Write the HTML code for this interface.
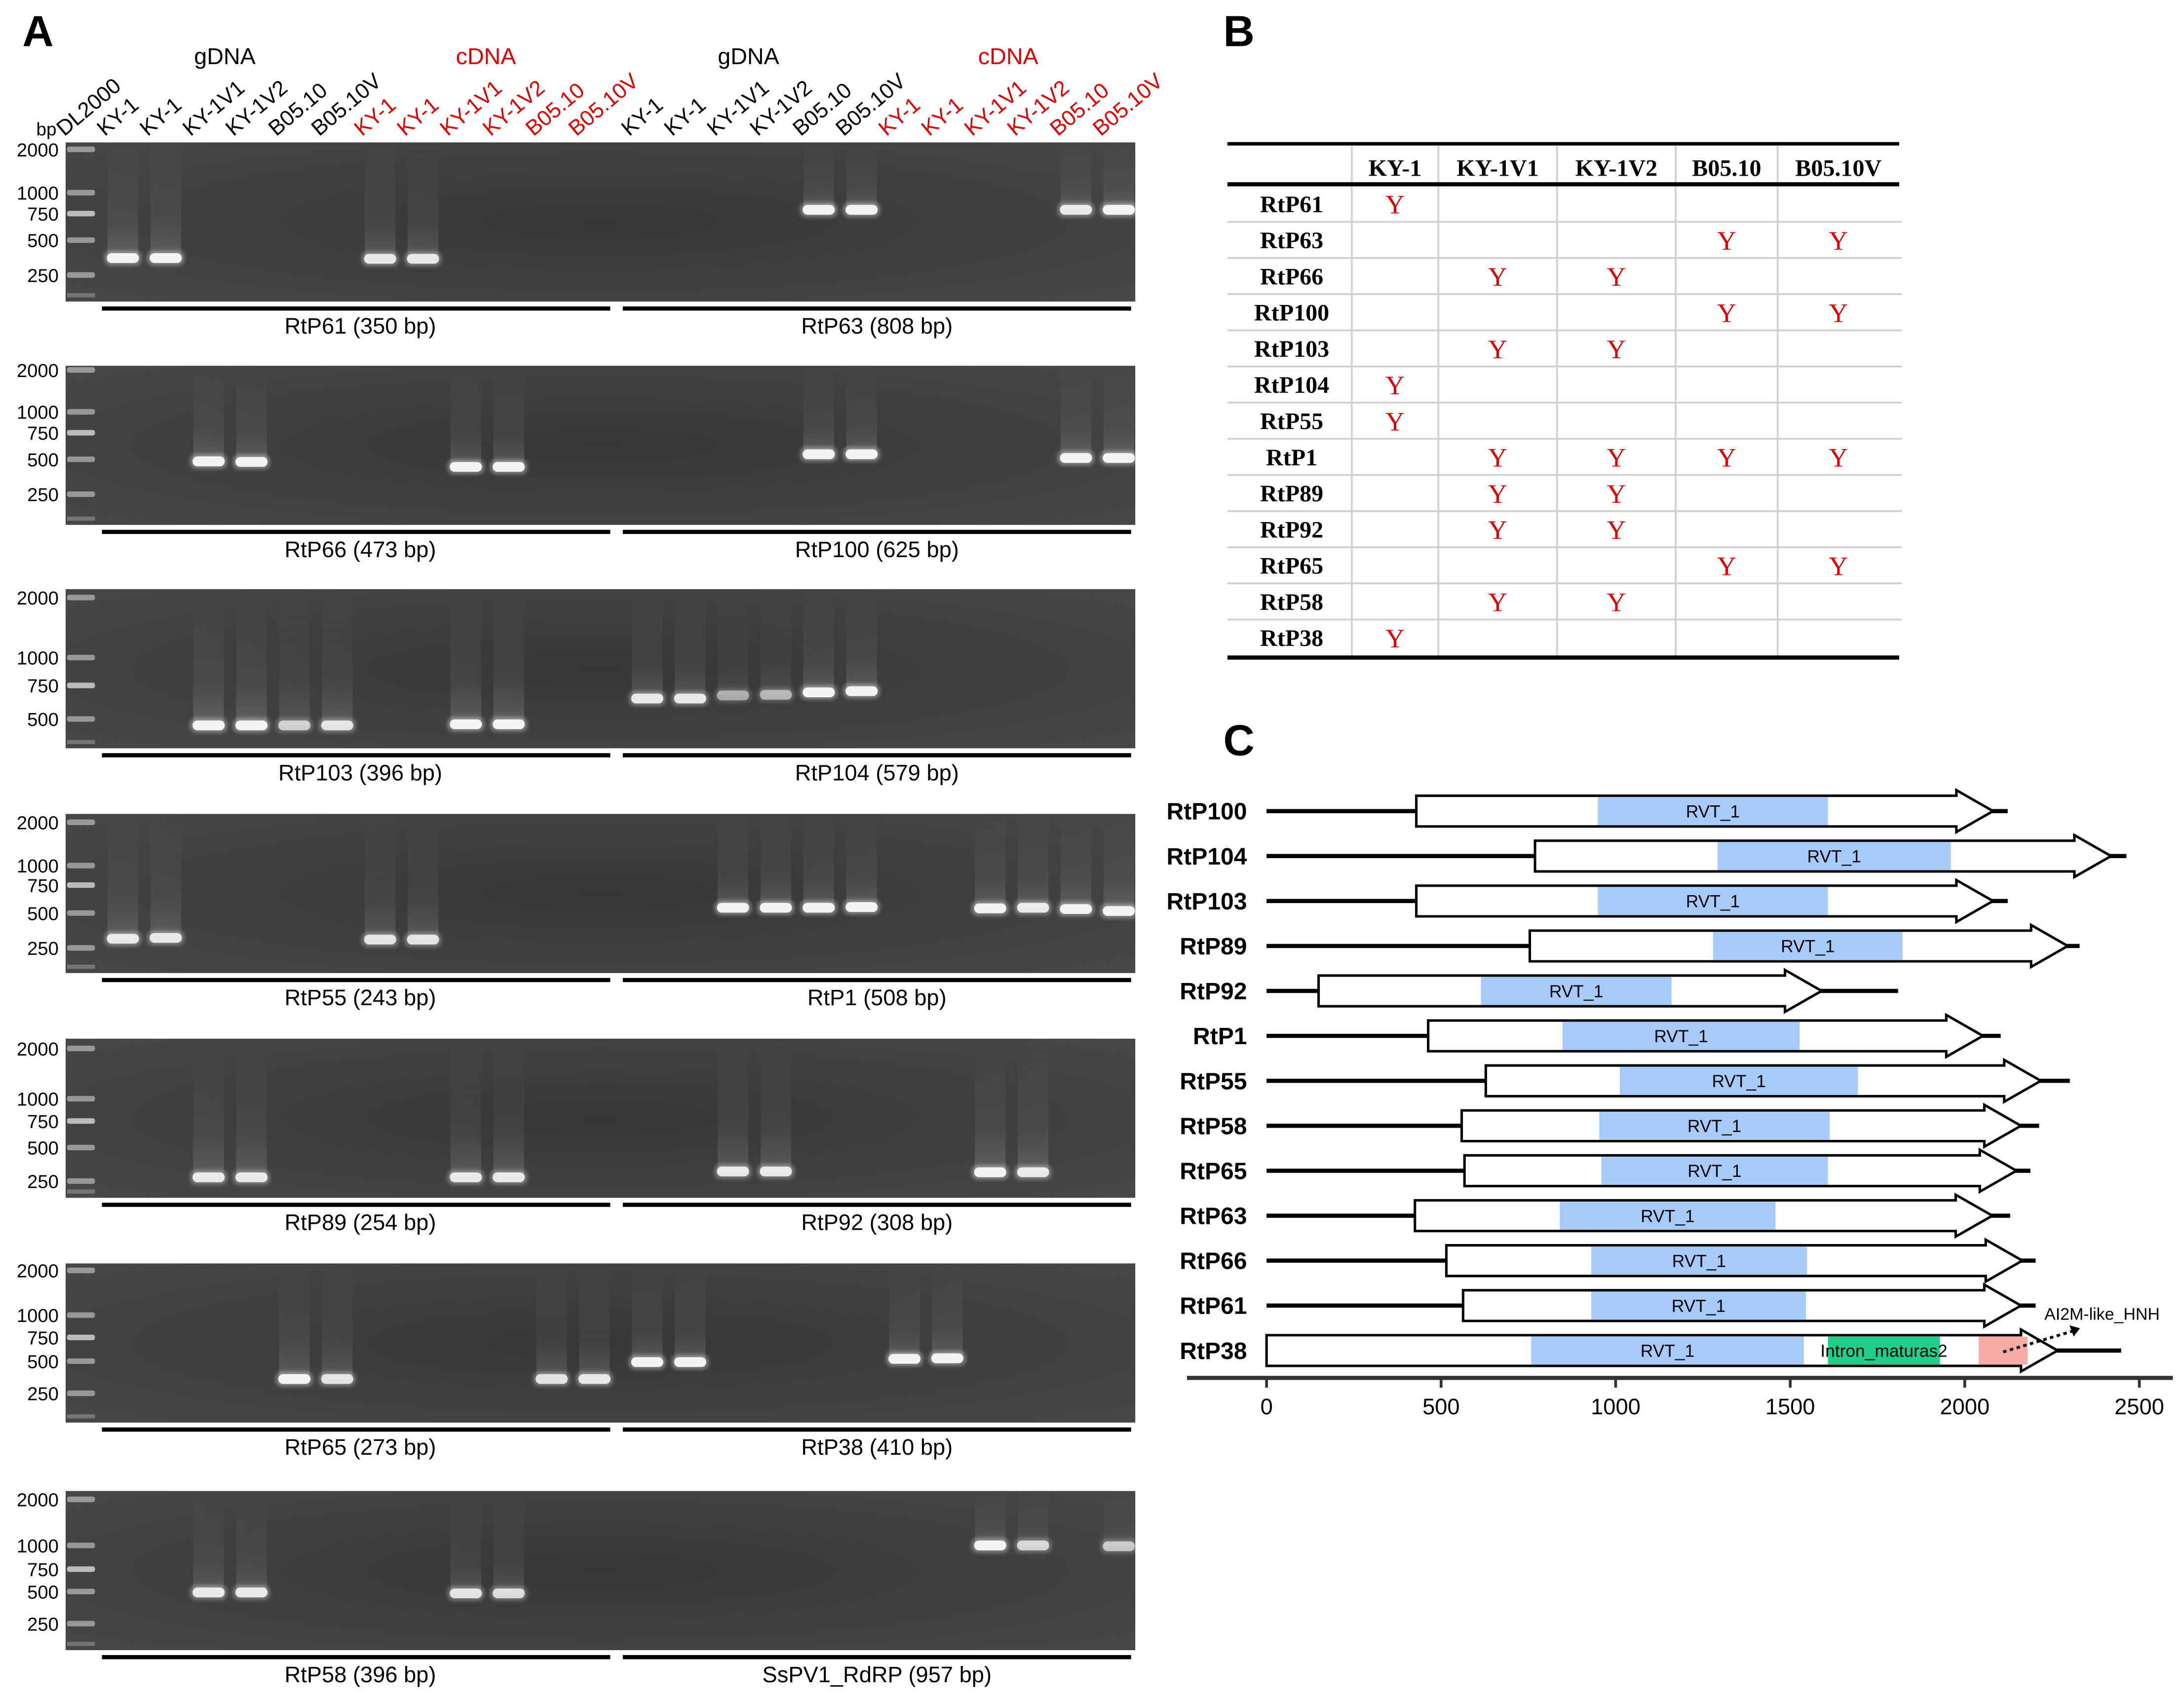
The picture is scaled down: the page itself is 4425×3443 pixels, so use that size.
<!DOCTYPE html>
<html><head><meta charset="utf-8"><style>
html,body{margin:0;padding:0;background:#fff;}
svg{display:block;}
</style></head><body>
<svg id="fig" xmlns="http://www.w3.org/2000/svg" width="4425" height="3443" viewBox="0 0 1564 1217" preserveAspectRatio="none" font-family="'Liberation Sans', sans-serif">
<defs>
<linearGradient id="smear" x1="0" y1="0" x2="0" y2="1"><stop offset="0" stop-color="#fff" stop-opacity="0"/><stop offset="0.7" stop-color="#fff" stop-opacity="0.06"/><stop offset="1" stop-color="#fff" stop-opacity="0.16"/></linearGradient>
<radialGradient id="gelbg" cx="0.5" cy="0.5" r="0.7"><stop offset="0" stop-color="#363636"/><stop offset="1" stop-color="#474747"/></radialGradient>
<filter id="glow" x="-50%" y="-100%" width="200%" height="300%"><feGaussianBlur stdDeviation="1.5"/></filter>
</defs>
<text x="16" y="33" font-size="31" font-weight="bold">A</text>
<text x="876" y="33" font-size="31" font-weight="bold">B</text>
<text x="876" y="541" font-size="31" font-weight="bold">C</text>
<g id="gA"></g>
<g id="gB"></g>
<g id="gC"></g>
</svg>
<script>
const NS='http://www.w3.org/2000/svg';
function mk(tag,attrs,parent,txt){const e=document.createElementNS(NS,tag);for(const k in attrs)e.setAttribute(k,attrs[k]);if(txt!==undefined)e.textContent=txt;parent.appendChild(e);return e;}

/* ---------- Panel A data ---------- */
const laneNames=['KY-1','KY-1','KY-1V1','KY-1V2','B05.10','B05.10V'];
const ladderBp=[2000,1000,750,500,250];
const gelTops=[102,262,422,583,744,905,1068];
const gelLadderOffsets=[[5,36,51,70,95],[3,33,48,67,92],[6,49,69,93,118],[6,37,51,71,96],[7,43,59,78,102],[5,37,53,70,93],[6,39,56,72,95]];
const gelLabelsLeft=['RtP61 (350 bp)','RtP66 (473 bp)','RtP103 (396 bp)','RtP55 (243 bp)','RtP89 (254 bp)','RtP65 (273 bp)','RtP58 (396 bp)'];
const gelLabelsRight=['RtP63 (808 bp)','RtP100 (625 bp)','RtP104 (579 bp)','RtP1 (508 bp)','RtP92 (308 bp)','RtP38 (410 bp)','SsPV1_RdRP (957 bp)'];
// bands: [lane(1-24), apparent bp, intensity]
const gelBands=[
 [[1,350,1],[2,350,1],[7,345,0.9],[8,345,0.9],[17,790,1],[18,790,1],[23,790,0.9],[24,790,1]],
 [[3,480,1],[4,475,1],[9,430,1],[10,430,1],[17,540,1],[18,540,1],[23,510,1],[24,510,1]],
 [[3,440,1],[4,440,1],[5,440,0.7],[6,440,0.85],[9,450,1],[10,450,1],[13,640,0.9],[14,640,0.9],[15,665,0.5],[16,670,0.55],[17,690,1],[18,700,1]],
 [[1,300,0.9],[2,305,0.9],[7,295,0.85],[8,295,0.85],[15,540,1],[16,540,1],[17,540,1],[18,545,1],[21,535,1],[22,540,0.9],[23,530,1],[24,515,1]],
 [[3,270,0.9],[4,270,0.9],[9,270,0.9],[10,270,0.9],[15,305,0.9],[16,305,0.9],[21,300,1],[22,300,0.9]],
 [[5,340,1],[6,340,0.85],[11,340,0.85],[12,340,0.9],[13,490,1],[14,490,1],[19,520,1],[20,525,1]],
 [[3,490,0.9],[4,490,0.9],[9,480,0.85],[10,480,0.8],[21,1000,1],[22,1000,0.75],[24,990,0.65]]
];
const gelX0=47, gelX1=813;
function laneX(l){return l<=12? 88+(l-1)*30.7 : 463.5+(l-13)*30.7;}
function bpToY(gi,bp){const off=gelLadderOffsets[gi];const lb=Math.log(bp);
 for(let i=0;i<ladderBp.length-1;i++){const a=Math.log(ladderBp[i]),b=Math.log(ladderBp[i+1]);
  if(lb<=a&&lb>=b){return gelTops[gi]+off[i]+(a-lb)/(a-b)*(off[i+1]-off[i]);}}
 if(lb>Math.log(ladderBp[0]))return gelTops[gi]+off[0];
 const a=Math.log(ladderBp[3]),b=Math.log(ladderBp[4]);return gelTops[gi]+off[4]+(b-lb)/(a-b)*(off[4]-off[3]);}

const gA=document.getElementById('gA');
const hdr=[['gDNA',161,'#000'],['cDNA',348,'#e00000'],['gDNA',536,'#000'],['cDNA',722,'#e00000']];
hdr.forEach(h=>{const t=mk('text',{x:h[1],y:46,'font-size':16.5,'text-anchor':'middle',fill:h[2]},gA,h[0]);
 });
let bpT=mk('text',{x:26,y:97,'font-size':13},gA,'bp');
let dl=mk('text',{x:0,y:0,'font-size':15.5,transform:'translate(46,98) rotate(-40)'},gA,'DL2000');

for(let l=1;l<=24;l++){const idx=(l-1)%6;const red=Math.floor((l-1)/6)%2===1;
 const t=mk('text',{x:0,y:0,'font-size':15.5,fill:red?'#e00000':'#000',transform:'translate('+(laneX(l)-13)+',98) rotate(-40)'},gA,laneNames[idx]);
 }

gelTops.forEach((top,gi)=>{
 const g=mk('g',{},gA);
 const r=mk('rect',{x:gelX0,y:top,width:gelX1-gelX0,height:114,fill:'url(#gelbg)'},g);
 
 gelLadderOffsets[gi].forEach((o,i)=>{if(o>112)return;
  const b=mk('rect',{x:48,y:top+o-2,width:20,height:4,rx:1.5,fill:'#d0d0d0',opacity:i===2?0.85:0.6},g);
  
  const t=mk('text',{x:42,y:top+o+5,'font-size':13.5,'text-anchor':'end'},g,String(ladderBp[i]));
  });
 const ex=mk('rect',{x:48,y:top+108,width:20,height:3,fill:'#bbb',opacity:0.4},g);
 
 gelBands[gi].forEach(bd=>{const x=laneX(bd[0]);const y=bpToY(gi,bd[1]);
  const s=mk('rect',{x:x-11,y:top,width:22,height:Math.max(0,y-top),fill:'url(#smear)',opacity:bd[2]},g);
  
  const gl=mk('rect',{x:x-13,y:y-5,width:26,height:10,rx:4,fill:'#fff',opacity:0.4*bd[2],filter:'url(#glow)'},g);
  
  const b=mk('rect',{x:x-11.5,y:y-3.5,width:23,height:7,rx:3.5,fill:'#f4f4f4',opacity:bd[2]},g);
  });
 const by=top+119;
 const b1=mk('rect',{x:73,y:by-1.5,width:364,height:3,fill:'#000'},g);
 const b2=mk('rect',{x:446,y:by-1.5,width:364,height:3,fill:'#000'},g);
 const t1=mk('text',{x:258,y:by+18,'font-size':16,'text-anchor':'middle'},g,gelLabelsLeft[gi]);
 const t2=mk('text',{x:628,y:by+18,'font-size':16,'text-anchor':'middle'},g,gelLabelsRight[gi]);
});

/* ---------- Panel B data ---------- */
const tblCols=['KY-1','KY-1V1','KY-1V2','B05.10','B05.10V'];
const tblRows=['RtP61','RtP63','RtP66','RtP100','RtP103','RtP104','RtP55','RtP1','RtP89','RtP92','RtP65','RtP58','RtP38'];
const tblY=[[1,0,0,0,0],[0,0,0,1,1],[0,1,1,0,0],[0,0,0,1,1],[0,1,1,0,0],[1,0,0,0,0],[1,0,0,0,0],[0,1,1,1,1],[0,1,1,0,0],[0,1,1,0,0],[0,0,0,1,1],[0,1,1,0,0],[1,0,0,0,0]];
const gB=document.getElementById('gB');
const colEdges=[879,968,1030,1115,1200,1273,1360];
const rowTop=133,rowH=25.9;
const ser="'Liberation Serif', serif";
for(let c=1;c<colEdges.length-1;c++){const l=mk('line',{x1:colEdges[c],y1:104,x2:colEdges[c],y2:471,stroke:'#d0d0d0','stroke-width':1.3},gB);}
for(let r=1;r<tblRows.length;r++){const y=rowTop+r*rowH;const l=mk('line',{x1:879,y1:y,x2:1362,y2:y,stroke:'#d0d0d0','stroke-width':1.3},gB);}
[[103,2.5],[132,3],[471,3]].forEach(a=>{const l=mk('line',{x1:879,y1:a[0],x2:1360,y2:a[0],stroke:'#000','stroke-width':a[1]},gB);});
tblCols.forEach((c,i)=>{const t=mk('text',{x:(colEdges[i+1]+colEdges[i+2])/2,y:126,'font-size':17,'font-weight':'bold','font-family':ser,'text-anchor':'middle'},gB,c);});
tblRows.forEach((rn,r)=>{const cy=rowTop+r*rowH+rowH/2+6;
 const t=mk('text',{x:925,y:cy,'font-size':17,'font-weight':'bold','font-family':ser,'text-anchor':'middle'},gB,rn);
 tblY[r].forEach((v,c)=>{if(!v)return;const y=mk('text',{x:(colEdges[c+1]+colEdges[c+2])/2,y:cy+1,'font-size':19,'font-family':ser,fill:'#e00000','text-anchor':'middle'},gB,'Y');});
});

/* ---------- Panel C data ---------- */
const cNames=['RtP100','RtP104','RtP103','RtP89','RtP92','RtP1','RtP55','RtP58','RtP65','RtP63','RtP66','RtP61','RtP38'];
const cOrfStart=[429,769,429,754,149,463,628,559,567,425,515,563,0];
const cArrowTip=[2081,2419,2081,2295,1590,2052,2218,2161,2148,2079,2165,2161,2266];
const cLineEnd=[2123,2463,2123,2329,1809,2103,2301,2213,2188,2130,2203,2203,2448];
const cRvtStart=[949,1292,949,1279,614,848,1012,953,959,840,930,930,758];
const cRvtEnd=[1608,1960,1608,1822,1160,1527,1694,1613,1608,1458,1548,1545,1539];
const intronDomain=[1608,1929];
const hnhDomain=[2040,2180];
const axisTicks=[0,500,1000,1500,2000,2500];
const gC=document.getElementById('gC');
function xs(v){return 907+v*0.25;}
const rowY0=581,rowPitch=32.2,headLen=105;
cNames.forEach((n,i)=>{const y=rowY0+i*rowPitch;
 const g=mk('g',{},gC);
 const lab=mk('text',{x:893,y:y+6,'font-size':17,'font-weight':'bold','text-anchor':'end'},g,n);
 const ln=mk('line',{x1:xs(0),y1:y,x2:xs(cLineEnd[i]),y2:y,stroke:'#000','stroke-width':3},g);
 const s=xs(cOrfStart[i]),t=xs(cArrowTip[i]),hb=xs(cArrowTip[i]-headLen),h=11,H=15;
 const ar=mk('polygon',{points:`${s},${y-h} ${hb},${y-h} ${hb},${y-H} ${t},${y} ${hb},${y+H} ${hb},${y+h} ${s},${y+h}`,fill:'#fff',stroke:'#000','stroke-width':1.8},g);
 
 const rv=mk('rect',{x:xs(cRvtStart[i]),y:y-h+1,width:xs(cRvtEnd[i])-xs(cRvtStart[i]),height:2*h-2,fill:'#a6cbfb'},g);
 const rt=mk('text',{x:(xs(cRvtStart[i])+xs(cRvtEnd[i]))/2,y:y+4.5,'font-size':12.5,'text-anchor':'middle'},g,'RVT_1');
 if(n==='RtP38'){
  const ir=mk('rect',{x:xs(intronDomain[0]),y:y-h+1,width:xs(intronDomain[1])-xs(intronDomain[0]),height:2*h-2,fill:'#1fce8a'},g);
  const it=mk('text',{x:(xs(intronDomain[0])+xs(intronDomain[1]))/2,y:y+4.5,'font-size':12.5,'text-anchor':'middle'},g,'Intron_maturas2');
  const hr=mk('rect',{x:xs(hnhDomain[0]),y:y-h+1,width:xs(hnhDomain[1])-xs(hnhDomain[0]),height:2*h-2,fill:'#f8aaa6'},g);
  const da=mk('line',{x1:xs(2110),y1:y+1,x2:xs(2310),y2:y-14,stroke:'#000','stroke-width':2,'stroke-dasharray':'2.5,2.5'},g);
  const hd=mk('polygon',{points:`${xs(2330)},${y-16} ${xs(2300)},${y-18} ${xs(2312)},${y-10}`,fill:'#000'},g);
  const ht=mk('text',{x:1464,y:y-22,'font-size':12},g,'AI2M-like_HNH');
 }
});
const ax=mk('line',{x1:850,y1:987,x2:1556,y2:987,stroke:'#333','stroke-width':3},gC);
axisTicks.forEach(v=>{const tk=mk('line',{x1:xs(v),y1:987,x2:xs(v),y2:994,stroke:'#333','stroke-width':2},gC);
 const tl=mk('text',{x:xs(v),y:1013,'font-size':16,'text-anchor':'middle'},gC,String(v));});
</script>
</body></html>
